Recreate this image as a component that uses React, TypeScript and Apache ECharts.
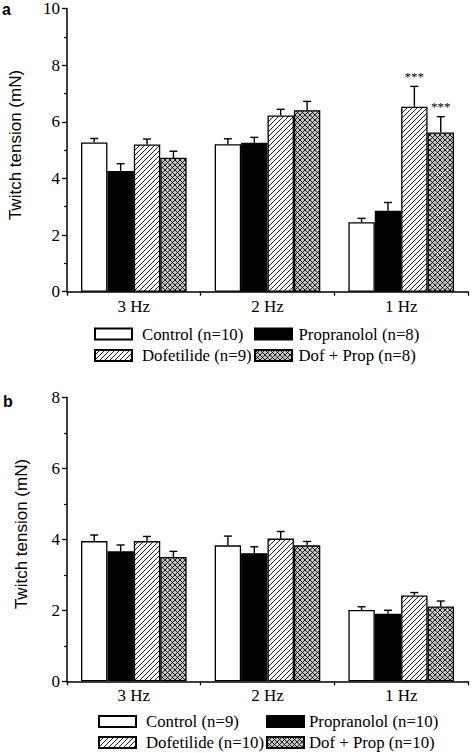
import React, { useEffect, useRef } from "react";
import * as echarts from "echarts";

const categories = ["3 Hz", "2 Hz", "1 Hz"];
const yTicksA = [0, 2, 4, 6, 8, 10];
const yTicksB = [0, 2, 4, 6, 8];
const yTitle = "Twitch tension (mN)";

const namesA = ["Control (n=10)", "Propranolol (n=8)", "Dofetilide (n=9)", "Dof + Prop (n=8)"];
const namesB = ["Control (n=9)", "Propranolol (n=10)", "Dofetilide (n=10)", "Dof + Prop (n=10)"];

// Panel a
const controlA = [5.27, 5.21, 2.45];
const propranololA = [4.26, 5.26, 2.86];
const dofetilideA = [5.2, 6.22, 6.53];
const dofPropA = [4.73, 6.41, 5.62];
const controlErrA = [0.14, 0.19, 0.14];
const propranololErrA = [0.26, 0.19, 0.29];
const dofetilideErrA = [0.19, 0.22, 0.72];
const dofPropErrA = [0.23, 0.31, 0.56];
const starsA = [
  ["", "", ""],
  ["", "", ""],
  ["", "", "***"],
  ["", "", "***"],
];

// Panel b
const controlB = [3.95, 3.83, 2.01];
const propranololB = [3.66, 3.61, 1.9];
const dofetilideB = [3.95, 4.02, 2.42];
const dofPropB = [3.5, 3.83, 2.11];
const controlErrB = [0.17, 0.26, 0.09];
const propranololErrB = [0.18, 0.18, 0.1];
const dofetilideErrB = [0.13, 0.2, 0.08];
const dofPropErrB = [0.16, 0.11, 0.15];
const starsB = [
  ["", "", ""],
  ["", "", ""],
  ["", "", ""],
  ["", "", ""],
];

const SERIF = "Times New Roman";
const SANS = "Liberation Sans";
const CAT_GAP = 0.21;

function makeHatch() {
  const c = document.createElement("canvas");
  c.width = 5;
  c.height = 5;
  const g = c.getContext("2d")!;
  g.fillStyle = "#fff";
  g.fillRect(0, 0, 5, 5);
  g.strokeStyle = "#000";
  g.lineWidth = 0.9;
  g.beginPath();
  g.moveTo(-1, 6);
  g.lineTo(6, -1);
  g.moveTo(-1, 1);
  g.lineTo(1, -1);
  g.moveTo(4, 6);
  g.lineTo(6, 4);
  g.stroke();
  return c;
}

function makeCross() {
  const c = document.createElement("canvas");
  c.width = 5;
  c.height = 5;
  const g = c.getContext("2d")!;
  g.fillStyle = "#c4c4c4";
  g.fillRect(0, 0, 5, 5);
  g.strokeStyle = "#000";
  g.lineWidth = 0.85;
  g.beginPath();
  g.moveTo(-1, 6);
  g.lineTo(6, -1);
  g.moveTo(-1, 1);
  g.lineTo(1, -1);
  g.moveTo(4, 6);
  g.lineTo(6, 4);
  g.moveTo(-1, -1);
  g.lineTo(6, 6);
  g.moveTo(-1, 4);
  g.lineTo(1, 6);
  g.moveTo(4, -1);
  g.lineTo(6, 1);
  g.stroke();
  return c;
}

export default function App() {
  const ref = useRef<HTMLDivElement>(null);
  useEffect(() => {
    if (!ref.current) return;
    const chart = echarts.init(ref.current, null, { renderer: "svg" });
    const hatch = makeHatch();
    const cross = makeCross();
    const fills: any[] = [
      "#ffffff",
      "#000000",
      { image: hatch, repeat: "repeat", imageWidth: 5, imageHeight: 5 },
      { image: cross, repeat: "repeat", imageWidth: 5, imageHeight: 5 },
    ];

    const panels = [
      {
        names: namesA,
        vals: [controlA, propranololA, dofetilideA, dofPropA],
        errs: [controlErrA, propranololErrA, dofetilideErrA, dofPropErrA],
        stars: starsA,
      },
      {
        names: namesB,
        vals: [controlB, propranololB, dofetilideB, dofPropB],
        errs: [controlErrB, propranololErrB, dofetilideErrB, dofPropErrB],
        stars: starsB,
      },
    ];

    const series: any[] = [];
    panels.forEach((p, pi) => {
      p.vals.forEach((v, si) => {
        series.push({
          type: "bar",
          name: p.names[si],
          xAxisIndex: pi,
          yAxisIndex: pi,
          data: v,
          barGap: "0%",
          barCategoryGap: CAT_GAP * 100 + "%",
          itemStyle: { color: fills[si], borderColor: "#000", borderWidth: 1.3 },
          z: 2,
        });
      });
      const items: { c: number; s: number; v: number; e: number; star: string }[] = [];
      p.vals.forEach((v, si) =>
        v.forEach((val, ci) => items.push({ c: ci, s: si, v: val, e: p.errs[si][ci], star: p.stars[si][ci] }))
      );
      series.push({
        type: "custom",
        xAxisIndex: pi,
        yAxisIndex: pi,
        z: 5,
        silent: true,
        itemStyle: { color: "#000" },
        encode: { x: 0, y: 2 },
        data: items.map((it) => [it.c, it.s, it.v + it.e, it.v]),
        renderItem: (params: any, api: any) => {
          const it = items[params.dataIndex];
          const base = api.coord([it.c, 0]);
          const top = api.coord([it.c, it.v]);
          const tip = api.coord([it.c, it.v + it.e]);
          const band = api.size([1, 0])[0];
          const groupW = band * (1 - CAT_GAP);
          const bw = groupW / 4;
          const x = base[0] - groupW / 2 + (it.s + 0.5) * bw;
          const children: any[] = [
            {
              type: "line",
              shape: { x1: x, y1: top[1], x2: x, y2: tip[1] },
              style: { stroke: "#000", lineWidth: 1.4 },
            },
            {
              type: "line",
              shape: { x1: x - 4, y1: tip[1], x2: x + 4, y2: tip[1] },
              style: { stroke: "#000", lineWidth: 1.4 },
            },
          ];
          if (it.star) {
            children.push({
              type: "text",
              x: x,
              y: tip[1] - 10,
              style: {
                text: it.star,
                align: "center",
                verticalAlign: "middle",
                fontSize: 13,
                fontFamily: SERIF,
                fill: "#000",
              },
            });
          }
          return { type: "group", children };
        },
      });
    });

    const legendPos = [
      // panel a
      { name: namesA[0], left: 94, top: 325.5, pad: 5 },
      { name: namesA[1], left: 254, top: 325.5, pad: 1.5 },
      { name: namesA[2], left: 94, top: 347, pad: 5 },
      { name: namesA[3], left: 254, top: 347, pad: 1.5 },
      // panel b
      { name: namesB[0], left: 98, top: 713, pad: 5 },
      { name: namesB[1], left: 266, top: 713, pad: 0 },
      { name: namesB[2], left: 98, top: 734, pad: 5 },
      { name: namesB[3], left: 266, top: 734, pad: 0 },
    ];

    const legends = legendPos.map((l) => ({
      data: [l.name],
      left: l.left,
      top: l.top,
      padding: 0,
      itemWidth: 37,
      itemHeight: 11,
      itemGap: 0,
      icon: "rect",
      selectedMode: false,
      textStyle: { fontFamily: SERIF, fontSize: 16.8, color: "#000", padding: [0, 0, 0, l.pad] },
    }));

    const mkX = (gi: number) => ({
      type: "category",
      gridIndex: gi,
      data: categories,
      axisLine: { show: true, lineStyle: { color: "#000", width: 1.5 } },
      axisTick: { show: true, interval: 0, length: 4, alignWithLabel: false, lineStyle: { color: "#000", width: 1.3 } },
      axisLabel: { fontFamily: SERIF, fontSize: 17, color: "#000", margin: 6, interval: 0 },
      splitLine: { show: false },
    });
    const mkY = (gi: number, ticks: number[]) => ({
      type: "value",
      gridIndex: gi,
      min: ticks[0],
      max: ticks[ticks.length - 1],
      interval: ticks[1] - ticks[0],
      axisLine: { show: true, lineStyle: { color: "#000", width: 1.5 } },
      axisTick: { show: true, length: 5, lineStyle: { color: "#000", width: 1.3 } },
      minorTick: { show: true, splitNumber: 2, length: 3, lineStyle: { color: "#000", width: 1.2 } },
      axisLabel: { fontFamily: SERIF, fontSize: 17, color: "#000", margin: 7 },
      splitLine: { show: false },
    });

    const yName = (x: number, y: number) => ({
      type: "text",
      x,
      y,
      rotation: Math.PI / 2,
      style: {
        text: yTitle,
        align: "center",
        verticalAlign: "middle",
        fontFamily: SANS,
        fontSize: 17,
        fill: "#000",
      },
    });

    chart.setOption({
      animation: false,
      backgroundColor: "#fff",
      title: [
        { text: "a", left: 2, top: 1, padding: 0, textStyle: { fontFamily: SANS, fontWeight: "bold", fontSize: 16, color: "#000" } },
        { text: "b", left: 3, top: 393, padding: 0, textStyle: { fontFamily: SANS, fontWeight: "bold", fontSize: 16, color: "#000" } },
      ],
      graphic: [yName(15, 145), yName(21.5, 534)],
      legend: legends,
      grid: [
        { left: 67, top: 8.3, width: 401, height: 283.4 },
        { left: 67, top: 397.3, width: 401, height: 284 },
      ],
      xAxis: [mkX(0), mkX(1)],
      yAxis: [mkY(0, yTicksA), mkY(1, yTicksB)],
      series,
    });
    return () => chart.dispose();
  }, []);
  return <div ref={ref} style={{ position: "fixed", left: 0, top: 0, width: 473, height: 753 }} />;
}
